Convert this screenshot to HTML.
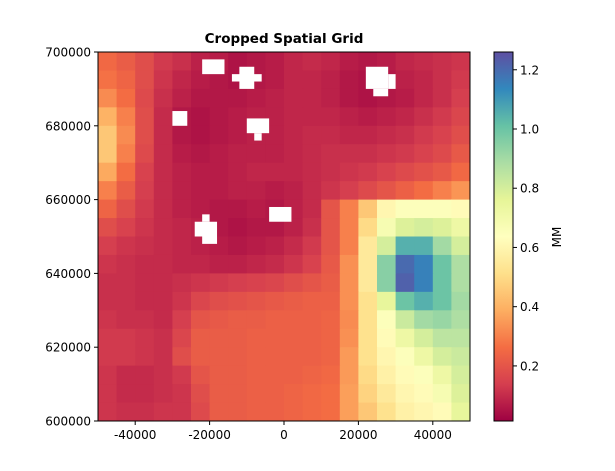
<!DOCTYPE html>
<html><head><meta charset="utf-8"><style>
body{margin:0;background:#fff;}
svg text{font-family:"DejaVu Sans","Liberation Sans",sans-serif;}
</style></head><body>
<svg id="chart" width="615" height="466" xmlns="http://www.w3.org/2000/svg">
<defs><linearGradient id="cbg" x1="0" y1="1" x2="0" y2="0">
<stop offset="0" stop-color="#9e0142"/><stop offset="0.1" stop-color="#d53e4f"/><stop offset="0.2" stop-color="#f46d43"/><stop offset="0.3" stop-color="#fdae61"/><stop offset="0.4" stop-color="#fee08b"/><stop offset="0.5" stop-color="#ffffbf"/><stop offset="0.6" stop-color="#e6f598"/><stop offset="0.7" stop-color="#abdda4"/><stop offset="0.8" stop-color="#66c2a5"/><stop offset="0.9" stop-color="#3288bd"/><stop offset="1" stop-color="#5e4fa2"/>
</linearGradient></defs>
<g id="cells"></g>
<g id="holes"></g>
<rect x="98" y="52" width="372" height="369" fill="none" stroke="#000" stroke-width="1"/>
<g id="axes"></g>
<text x="284" y="43" text-anchor="middle" font-size="13.5" font-weight="bold">Cropped Spatial Grid</text>
<rect x="494" y="52" width="19" height="369" fill="url(#cbg)" stroke="#000" stroke-width="1"/>
<text transform="translate(561,237) rotate(-90)" text-anchor="middle" font-size="12">MM</text>
</svg>
<script>
const xRange=[-50000,50000];
const yRange=[600000,700000];
const xTicks=[-40000,-20000,0,20000,40000];
const yTicks=[600000,620000,640000,660000,680000,700000];
const cbTicks=[0.2,0.4,0.6,0.8,1.0,1.2];
const cbTickLabels=["0.2","0.4","0.6","0.8","1.0","1.2"];
const vRange=[0.014,1.26];
const cellSize=5000;
// rows from top (y=700000) downward, columns from x=-50000
const grid=[
[.25,.22,.18,.13,.11,.08,.07,.05,.06,.07,.09,.10,.09,.07,.06,.07,.09,.10,.11,.12],
[.27,.24,.18,.12,.09,.07,.06,.05,.06,.07,.09,.09,.08,.06,.05,.06,.08,.09,.11,.13],
[.32,.26,.17,.11,.08,.06,.06,.06,.07,.08,.09,.09,.08,.06,.05,.06,.07,.09,.11,.14],
[.40,.30,.18,.10,.06,.05,.06,.07,.08,.08,.09,.09,.09,.08,.07,.08,.09,.11,.13,.16],
[.45,.32,.18,.10,.06,.05,.06,.07,.08,.08,.09,.10,.10,.09,.09,.10,.11,.13,.15,.18],
[.45,.30,.17,.10,.07,.06,.07,.08,.08,.08,.09,.10,.11,.11,.11,.12,.13,.15,.17,.21],
[.38,.26,.15,.10,.08,.07,.07,.08,.09,.09,.09,.10,.11,.12,.13,.15,.17,.19,.21,.25],
[.30,.22,.14,.10,.08,.07,.07,.08,.08,.07,.08,.10,.12,.14,.17,.20,.23,.26,.30,.34],
[.24,.18,.13,.10,.08,.07,.06,.06,.07,.06,.08,.10,.20,.30,.45,.60,.65,.65,.65,.62],
[.18,.15,.12,.10,.09,.08,.06,.05,.06,.06,.08,.11,.20,.30,.50,.68,.78,.80,.78,.72],
[.14,.12,.11,.10,.09,.08,.07,.06,.07,.08,.10,.13,.20,.30,.55,.80,1.05,1.05,.90,.80],
[.12,.11,.10,.10,.09,.09,.08,.08,.09,.10,.12,.15,.21,.33,.55,.95,1.20,1.15,1.00,.88],
[.11,.11,.10,.10,.11,.12,.13,.14,.15,.16,.18,.20,.22,.33,.55,.95,1.22,1.15,1.00,.88],
[.11,.11,.10,.10,.12,.16,.18,.19,.20,.21,.22,.23,.23,.33,.52,.75,1.00,1.05,1.00,.90],
[.12,.11,.11,.10,.14,.20,.21,.22,.22,.23,.23,.23,.24,.32,.52,.65,.82,.90,.92,.88],
[.13,.13,.12,.11,.16,.22,.22,.22,.23,.23,.23,.23,.24,.33,.52,.62,.72,.80,.85,.85],
[.13,.13,.12,.11,.18,.22,.22,.22,.23,.23,.23,.23,.24,.35,.52,.60,.65,.72,.80,.82],
[.12,.10,.10,.11,.13,.20,.22,.22,.23,.23,.23,.24,.25,.35,.50,.58,.62,.65,.72,.80],
[.12,.10,.10,.11,.12,.18,.22,.22,.23,.23,.24,.25,.26,.36,.48,.55,.60,.62,.68,.78],
[.12,.11,.11,.12,.12,.17,.22,.22,.23,.23,.24,.25,.26,.36,.45,.52,.58,.60,.62,.75]
];
// missing-data rectangles [x0,x1,y0,y1]
const holes=[
[-22000,-16000,694000,698000],
[-12000,-8000,690000,696000],[-14000,-6000,692000,694000],
[22000,28000,690000,696000],[28000,30000,690000,694000],[24000,28000,688000,690000],
[-30000,-26000,680000,684000],
[-10000,-4000,678000,682000],[-8000,-6000,676000,678000],
[-4000,2000,654000,658000],
[-22000,-20000,654000,656000],[-24000,-18000,650000,654000],[-22000,-18000,648000,650000]
];
const X0=98,X1=470,Y0=421,Y1=52;
const sx=v=>X0+(v-xRange[0])/(xRange[1]-xRange[0])*(X1-X0);
const sy=v=>Y0-(v-yRange[0])/(yRange[1]-yRange[0])*(Y0-Y1);
const cbY=v=>421-(v-vRange[0])/(vRange[1]-vRange[0])*369;
const stops=["#9e0142","#d53e4f","#f46d43","#fdae61","#fee08b","#ffffbf","#e6f598","#abdda4","#66c2a5","#3288bd","#5e4fa2"].map(h=>[1,3,5].map(i=>parseInt(h.substr(i,2),16)));
function cmap(v){let t=(v-vRange[0])/(vRange[1]-vRange[0]);t=Math.max(0,Math.min(1,t))*10;const i=Math.min(9,Math.floor(t)),f=t-i;const a=stops[i],b=stops[i+1];return `rgb(${a.map((c,k)=>Math.round(c+(b[k]-c)*f)).join(',')})`;}
const NS="http://www.w3.org/2000/svg";
function mk(tag,attrs,parent){const e=document.createElementNS(NS,tag);for(const k in attrs)e.setAttribute(k,attrs[k]);parent.appendChild(e);return e;}
const cells=document.getElementById('cells');
grid.forEach((row,r)=>row.forEach((v,c)=>{
  const x0=xRange[0]+c*cellSize,y1=yRange[1]-r*cellSize;
  const e=mk('rect',{x:sx(x0),y:sy(y1),width:sx(x0+cellSize)-sx(x0)+0.5,height:sy(y1-cellSize)-sy(y1)+0.5,fill:cmap(v)},cells);
  
  
}));
const hg=document.getElementById('holes');
holes.forEach(h=>{
  const e=mk('rect',{x:sx(h[0]),y:sy(h[3]),width:sx(h[1])-sx(h[0]),height:sy(h[2])-sy(h[3]),fill:'#fff'},hg);
  
  
});
const ax=document.getElementById('axes');
xTicks.forEach(t=>{const x=sx(t);
  const l=mk('line',{x1:x,x2:x,y1:421,y2:425,stroke:'#000'},ax);
  
  
  const tx=mk('text',{x:x,y:439,'text-anchor':'middle','font-size':12},ax);tx.textContent=t;
  
  
});
yTicks.forEach(t=>{const y=sy(t);
  const l=mk('line',{x1:94,x2:98,y1:y,y2:y,stroke:'#000'},ax);
  
  
  const tx=mk('text',{x:91,y:y+4.5,'text-anchor':'end','font-size':12},ax);tx.textContent=t;
  
  
});
cbTicks.forEach((t,i)=>{const y=cbY(t);
  const l=mk('line',{x1:513,x2:517,y1:y,y2:y,stroke:'#000'},ax);
  
  
  const tx=mk('text',{x:520,y:y+4.5,'font-size':12},ax);tx.textContent=cbTickLabels[i];
  
  
});
</script>
</body></html>
